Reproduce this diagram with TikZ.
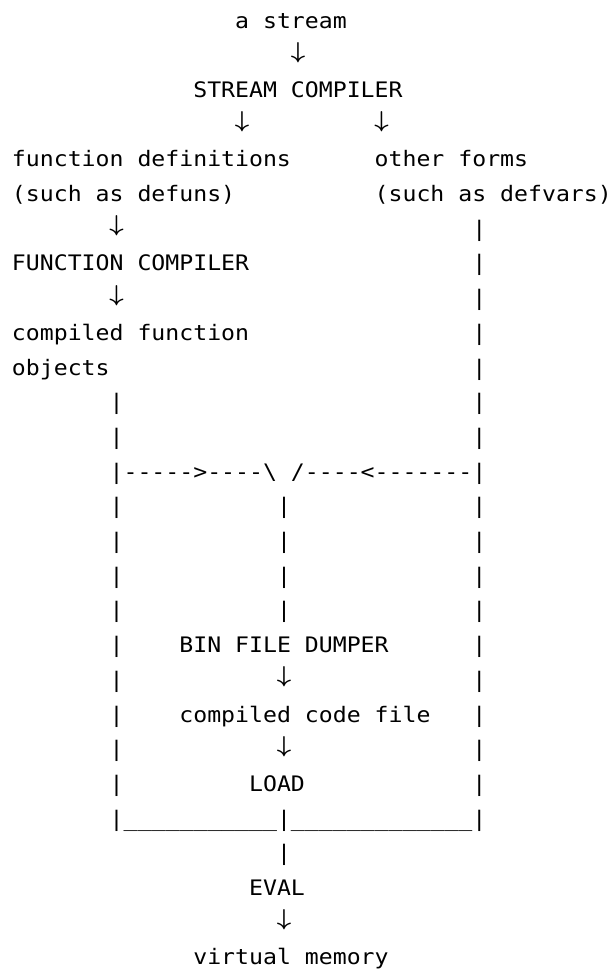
\documentclass[tikz,border=0pt]{standalone}
\usepackage{fontspec}
\usepackage{graphicx}
\setmonofont{DejaVu Sans Mono}
\newcommand{\asc}[1]{\scalebox{1.086}[1]{\ttfamily\fontsize{16}{16}\selectfont #1}}
\newcommand{\darr}{\makebox[9.632pt][c]{\fontsize{17}{17}\selectfont\boldmath\raisebox{3.3pt}{$\downarrow$}}}
\newcommand{\cellat}[4]{\node[txt] (#1) at ({12+#2*13.95},{28+(#3-1)*34.7}) {\asc{#4}};}
\begin{document}
\begin{tikzpicture}[x=0.75pt,y=-0.75pt,
  txt/.style={anchor=base west, inner sep=0pt, outer sep=0pt, text=black}]
\fill[white] (0,0) rectangle (616,971);
\useasboundingbox (0,0) rectangle (616,971);
% top part
\cellat{stream}{16}{1}{a stream}
\cellat{arA}{20}{2}{\darr}
\cellat{streamcomp}{13}{3}{STREAM COMPILER}
\cellat{arB}{16}{4}{\darr}
\cellat{arC}{26}{4}{\darr}
\cellat{fundef}{0}{5}{function definitions}
\cellat{other}{26}{5}{other forms}
\cellat{fundefB}{0}{6}{(such as defuns)}
\cellat{otherB}{26}{6}{(such as defvars)}
\cellat{arD}{7}{7}{\darr}
\cellat{funcomp}{0}{8}{FUNCTION COMPILER}
\cellat{arE}{7}{9}{\darr}
\cellat{cfo}{0}{10}{compiled function}
\cellat{cfoB}{0}{11}{objects}
% right bar rows 7-13
\foreach \r in {7,...,13} {\cellat{rb\r}{33}{\r}{|}}
% left bar rows 12-13
\foreach \r in {12,13} {\cellat{lb\r}{7}{\r}{|}}
% merge line
\cellat{merge}{7}{14}{|----->----\textbackslash{} /----<-------|}
% box sides rows 15-23
\foreach \r in {15,...,23} {\cellat{lb\r}{7}{\r}{|}\cellat{rb\r}{33}{\r}{|}}
\foreach \r in {15,...,18} {\cellat{mb\r}{19}{\r}{|}}
\cellat{dumper}{12}{19}{BIN FILE DUMPER}
\cellat{arF}{19}{20}{\darr}
\cellat{ccf}{12}{21}{compiled code file}
\cellat{arG}{19}{22}{\darr}
\cellat{load}{17}{23}{LOAD}
\cellat{bottom}{7}{24}{|\_\_\_\_\_\_\_\_\_\_\_|\_\_\_\_\_\_\_\_\_\_\_\_\_|}
\cellat{mbB}{19}{25}{|}
\cellat{eval}{17}{26}{EVAL}
\cellat{arH}{19}{27}{\darr}
\cellat{vm}{13}{28}{virtual memory}
\end{tikzpicture}
\end{document}
